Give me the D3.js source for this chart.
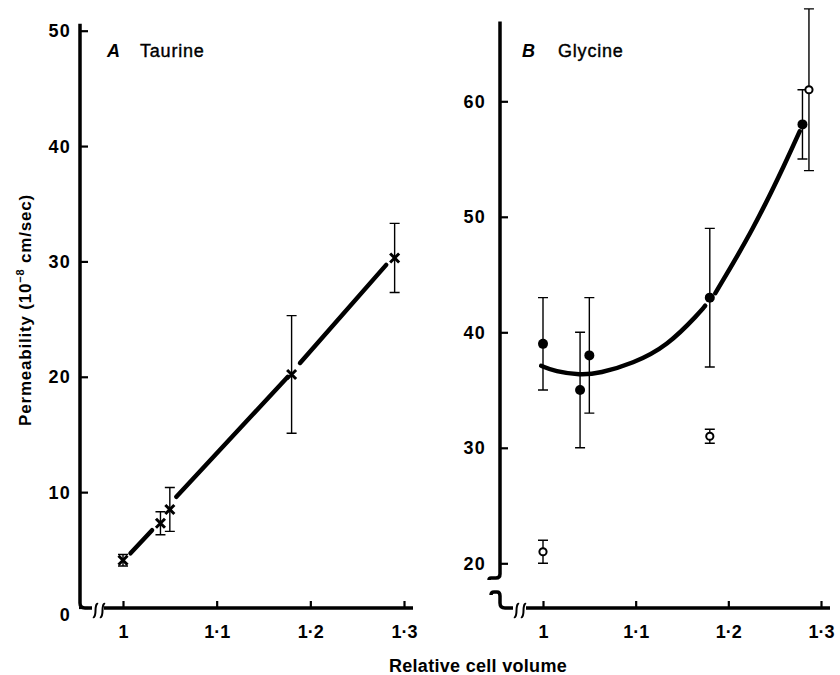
<!DOCTYPE html>
<html>
<head>
<meta charset="utf-8">
<script src="https://cdn.jsdelivr.net/npm/d3@7"></script>
<style>
    body { margin: 0; background: #fff; }
    svg { display: block; }
</style>
</head>
<body>
<div id="chart"></div>
<script>
// panel A - taurine
const volTaurine = [1.0, 1.04, 1.05, 1.18, 1.29];
const permTaurine = [4.1, 7.3, 8.5, 20.2, 30.3];
const semTaurine = [0.5, 1.0, 1.9, 5.1, 3.0];
// fitted line, pieces as drawn (gaps at the markers)
const taurineFit = [
    [[1.008, 4.7], [1.031, 6.7]],
    [[1.057, 9.6], [1.176, 20.0]],
    [[1.189, 21.2], [1.281, 29.7]]
];

// panel B - glycine
const volGlyFilled = [1.0, 1.04, 1.05, 1.18, 1.28];
const permGlyFilled = [39, 35, 38, 43, 58];
const semGlyFilled = [4, 5, 5, 6, 3];
const volGlyOpen = [1.0, 1.18, 1.287];
const permGlyOpen = [21, 31, 61];
const semGlyOpen = [1, 0.6, 7];
const glycineFit = [
    [[0.998, 37.1], [1.013, 36.6], [1.04, 36.3], [1.061, 36.45], [1.097, 37.3],
     [1.134, 38.8], [1.169, 41.7], [1.175, 42.3]],
    [[1.186, 43.4], [1.227, 48.9], [1.263, 54.9], [1.277, 57.4]]
];

const xTicks = [1, 1.1, 1.2, 1.3];
const xTickLabels = ["1", "1·1", "1·2", "1·3"];
const yTicksA = [0, 10, 20, 30, 40, 50];
const yTicksB = [20, 30, 40, 50, 60];

function init() {
    let w = 840;
    let h = 675;
    const font = "'Liberation Sans', Arial, Helvetica, sans-serif";

    let svg = d3.select("#chart")
        .append("svg")
        .attr("width", w)
        .attr("height", h);

    const xA = d3.scaleLinear().domain([1, 1.3]).range([123, 404]);
    const yA = d3.scaleLinear().domain([0, 50]).range([607.5, 30.7]);
    const xB = d3.scaleLinear().domain([1, 1.3]).range([543, 821]);
    const yB = d3.scaleLinear().domain([20, 60]).range([563.3, 101.3]);

    const axA = 80, axB = 500, yBase = 608;

    // tick marks + labels via d3 axes, frame lines drawn by hand below
    function drawY(scale, x0, ticks, pad) {
        let g = svg.append("g")
            .attr("transform", "translate(" + x0 + ",0)")
            .call(d3.axisLeft(scale).tickValues(ticks).tickSize(-8).tickPadding(pad).tickFormat(d3.format("d")));
        g.attr("font-size", 18).attr("font-family", font).attr("font-weight", "bold");
        g.select(".domain").remove();
        g.selectAll(".tick line").attr("stroke", "#000").attr("stroke-width", 2.2).attr("x1", -1);
        g.selectAll(".tick text").attr("fill", "#000").style("letter-spacing", "1.2px")
            .attr("dy", d => d === 0 ? "0.72em" : "0.34em");
    }

    function drawX(scale) {
        let g = svg.append("g")
            .attr("transform", "translate(0," + yBase + ")")
            .call(d3.axisBottom(scale).tickValues(xTicks).tickSize(-7).tickPadding(17)
                .tickFormat((d, i) => xTickLabels[i]));
        g.attr("font-size", 18).attr("font-family", font).attr("font-weight", "bold");
        g.select(".domain").remove();
        g.selectAll(".tick line").attr("stroke", "#000").attr("stroke-width", 2.2);
        g.selectAll(".tick text").attr("fill", "#000");
    }

    drawY(yA, axA, yTicksA, 9);
    drawY(yB, axB, yTicksB, 14);
    drawX(xA);
    drawX(xB);

    // little "ʃ" break marks on the x axes
    function brk(x) {
        return "M" + x + "," + (yBase + 9) +
            " C" + (x + 2) + "," + (yBase + 10) + " " + (x + 2.5) + "," + (yBase + 5) + " " + (x + 2.5) + "," + (yBase + 2.5) +
            " S" + (x + 3) + "," + (yBase - 5) + " " + (x + 5) + "," + (yBase - 4);
    }

    let frameA = "M" + axA + "," + (yA(50) - 7) + " V" + (yBase - 5) +
        " Q" + axA + "," + yBase + " " + (axA + 5) + "," + yBase + " H" + (axA + 12) +
        " M" + (axA + 24) + "," + yBase + " H" + (xA(1.3) + 9);

    let yCut = 578;
    let frameB = "M" + axB + "," + yB(66.9) + " V" + (yCut - 4) +
        " Q" + axB + "," + yCut + " " + (axB - 4) + "," + yCut + " H" + (axB - 9) +
        " q-2,0 -2,2" +
        " M" + (axB - 9) + "," + (yCut + 17) + " q0,-3 3,-3 H" + (axB - 3) +
        " q3,0 3,4 V" + (yBase - 5) +
        " Q" + axB + "," + yBase + " " + (axB + 5) + "," + yBase + " H" + (axB + 13) +
        " M" + (axB + 26) + "," + yBase + " H" + (xB(1.3) + 9);

    svg.append("path").attr("d", frameA)
        .attr("fill", "none").attr("stroke", "#000").attr("stroke-width", 3.5);
    svg.append("path").attr("d", frameB)
        .attr("fill", "none").attr("stroke", "#000").attr("stroke-width", 3.5);

    [axA + 13, axA + 20, axB + 14, axB + 21].forEach(function (x) {
        svg.append("path").attr("d", brk(x))
            .attr("fill", "none").attr("stroke", "#000").attr("stroke-width", 2);
    });

    // fitted lines
    let lineA = d3.line().x(d => xA(d[0])).y(d => yA(d[1]));
    svg.selectAll(".fitA")
        .data(taurineFit)
        .enter()
        .append("path")
        .attr("class", "fitA")
        .attr("d", lineA)
        .attr("fill", "none")
        .attr("stroke", "#000")
        .attr("stroke-width", 4.5)
        .attr("stroke-linecap", "round");

    let lineB = d3.line().x(d => xB(d[0])).y(d => yB(d[1])).curve(d3.curveBasis);
    svg.selectAll(".fitB")
        .data(glycineFit)
        .enter()
        .append("path")
        .attr("class", "fitB")
        .attr("d", lineB)
        .attr("fill", "none")
        .attr("stroke", "#000")
        .attr("stroke-width", 4.5)
        .attr("stroke-linecap", "round");

    // error bars
    function errorBars(xs, ys, es, xs_, ys_) {
        const cap = 5;
        xs.forEach(function (v, i) {
            let x = xs_(v);
            let y1 = ys_(ys[i] - es[i]);
            let y2 = ys_(ys[i] + es[i]);
            svg.append("path")
                .attr("d", "M" + x + "," + y1 + " V" + y2 +
                    " M" + (x - cap) + "," + y1 + " H" + (x + cap) +
                    " M" + (x - cap) + "," + y2 + " H" + (x + cap))
                .attr("fill", "none")
                .attr("stroke", "#000")
                .attr("stroke-width", 1.4);
        });
    }

    errorBars(volTaurine, permTaurine, semTaurine, xA, yA);
    errorBars(volGlyFilled, permGlyFilled, semGlyFilled, xB, yB);
    errorBars(volGlyOpen, permGlyOpen, semGlyOpen, xB, yB);

    // taurine crosses
    const s = 4.5;
    svg.selectAll(".cross")
        .data(volTaurine)
        .enter()
        .append("path")
        .attr("class", "cross")
        .attr("d", function (d, i) {
            let x = xA(d), y = yA(permTaurine[i]);
            return "M" + (x - s) + "," + (y - s) + " L" + (x + s) + "," + (y + s) +
                " M" + (x - s) + "," + (y + s) + " L" + (x + s) + "," + (y - s);
        })
        .attr("stroke", "#000")
        .attr("stroke-width", 3);

    svg.selectAll(".dot")
        .data(volGlyFilled)
        .enter()
        .append("circle")
        .attr("class", "dot")
        .attr("cx", d => xB(d))
        .attr("cy", (d, i) => yB(permGlyFilled[i]))
        .attr("r", 5)
        .attr("fill", "#000");

    svg.selectAll(".ring")
        .data(volGlyOpen)
        .enter()
        .append("circle")
        .attr("class", "ring")
        .attr("cx", d => xB(d))
        .attr("cy", (d, i) => yB(permGlyOpen[i]))
        .attr("r", 3.6)
        .attr("fill", "#fff")
        .attr("stroke", "#000")
        .attr("stroke-width", 2);

    // panel labels
    function panelLabel(letter, name, x1, x2) {
        svg.append("text")
            .attr("x", x1).attr("y", 57)
            .attr("font-family", font).attr("font-size", 18)
            .attr("font-style", "italic").attr("font-weight", "bold")
            .text(letter);
        svg.append("text")
            .attr("x", x2).attr("y", 57)
            .attr("font-family", font).attr("font-size", 18)
            .attr("stroke", "#000").attr("stroke-width", 0.4)
            .style("letter-spacing", "0.8px")
            .text(name);
    }
    panelLabel("A", "Taurine", 107, 140);
    panelLabel("B", "Glycine", 522, 558);

    // axis titles
    let yt = svg.append("text")
        .attr("transform", "translate(31,310) rotate(-90)")
        .attr("text-anchor", "middle")
        .attr("font-family", font).attr("font-size", 17).attr("font-weight", "bold")
        .style("letter-spacing", "0.8px");
    yt.append("tspan").text("Permeability (10");
    yt.append("tspan").attr("font-size", 11).attr("dy", -7).text("\u22128");
    yt.append("tspan").attr("dy", 7).text(" cm/sec)");

    svg.append("text")
        .attr("x", 478).attr("y", 672)
        .attr("text-anchor", "middle")
        .attr("font-family", font).attr("font-size", 18).attr("font-weight", "bold")
        .style("letter-spacing", "0.3px")
        .text("Relative cell volume");
}

window.addEventListener('load', init);
</script>
</body>
</html>
